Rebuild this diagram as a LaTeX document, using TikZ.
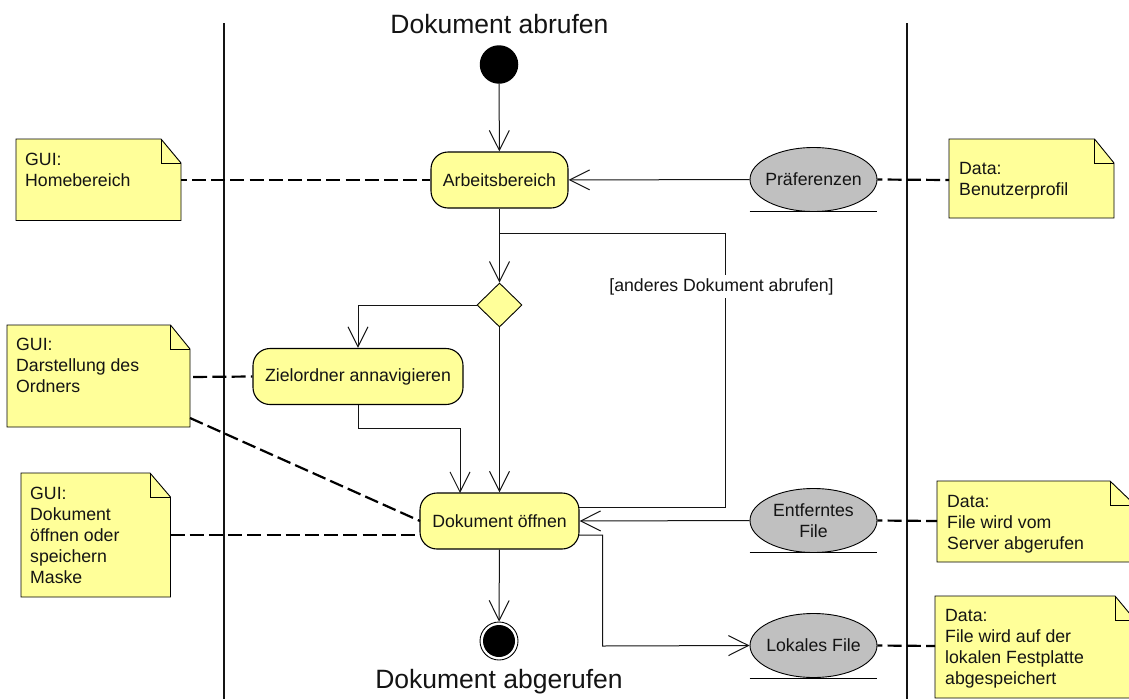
\documentclass[tikz,border=0pt]{standalone}
\usepackage{fontspec}
\setmainfont{Liberation Sans}
\usetikzlibrary{arrows.meta,shapes.geometric}
\definecolor{noteyellow}{RGB}{255,255,153}
\definecolor{objgray}{RGB}{192,192,192}
\definecolor{ink}{RGB}{20,20,20}
\tikzset{
  x=1pt,y=-1pt,
  every node/.style={font=\fontsize{17.7}{21}\selectfont,text=ink},
  lane/.style={draw=ink,line width=1.3pt},
  flow/.style={draw=ink,line width=1pt},
  arr/.style={flow,-{Straight Barb[length=20pt,width=20pt,line width=1pt]}},
  dep/.style={draw=black,line width=2.2pt,dash pattern=on 14pt off 5.2pt},
  activity/.style={draw=black,line width=1.1pt,fill=noteyellow,rounded corners=17pt,minimum height=56pt,inner sep=0pt,align=center},
  objnode/.style={draw=black,line width=0.9pt,fill=objgray,ellipse,minimum width=127pt,minimum height=64pt,inner xsep=-12pt,inner ysep=0pt,align=center},
  decisionnode/.style={draw=black,line width=0.9pt,fill=noteyellow,diamond,minimum width=45pt,minimum height=44pt,inner sep=0pt},
  bigtext/.style={font=\fontsize{26.5}{30}\selectfont},
  notefill/.style={draw=black,line width=0.9pt,fill=noteyellow},
  notetext/.style={anchor=north west,align=left,inner sep=0pt},
  underl/.style={draw=black,line width=1pt}
}
\newcommand{\notebox}[7]{% name, left, top, right, bottom, foldx, foldy
  \path[notefill] (#2,#3) -- (#6,#3) -- (#4,#7) -- (#4,#5) -- (#2,#5) -- cycle;
  \draw[draw=black,line width=0.9pt] (#6,#3) -- (#6,#7) -- (#4,#7);
  \coordinate (#1) at (#2,#3);
}
\begin{document}
\begin{tikzpicture}
\useasboundingbox (0,0) rectangle (1129,699);
\fill[white] (0,0) rectangle (1129,699);

% lanes
\coordinate (lane1a) at (224,23); \coordinate (lane1b) at (224,699);
\coordinate (lane2a) at (907,23); \coordinate (lane2b) at (907,699);
\draw[lane] (lane1a) -- (lane1b);
\draw[lane] (lane2a) -- (lane2b);

% notes
\notebox{n1}{16}{139}{181}{220.5}{161}{163}
\notebox{n2}{7}{325}{190}{427}{170.5}{349}
\notebox{n3}{21}{473}{170.5}{597}{150}{497}
\notebox{n4}{949}{139}{1114}{218}{1094.5}{163}
\notebox{n5}{937}{481}{1135}{562}{1110}{505}
\notebox{n6}{935}{596}{1135}{698}{1115}{620}
\node[notetext] (t1) at (25,153) {GUI:\\Homebereich};
\node[notetext] (t2) at (16,338) {GUI:\\Darstellung des\\Ordners};
\node[notetext] (t3) at (30,486.5) {GUI:\\Dokument\\öffnen oder\\speichern\\Maske};
\node[notetext] (t4) at (959,162.5) {Data:\\Benutzerprofil};
\node[notetext] (t5) at (947,495) {Data:\\File wird vom\\Server abgerufen};
\node[notetext] (t6) at (945,609) {Data:\\File wird auf der\\lokalen Festplatte\\abgespeichert};

% main nodes
\node[circle,fill=black,minimum size=38.5pt,inner sep=0pt] (start) at (499,64.5) {};
\node[activity,minimum width=137pt] (arb) at (499.5,180) {Arbeitsbereich};
\node[decisionnode] (dec) at (499.5,305) {};
\node[activity,minimum width=210pt] (ziel) at (358,376.5) {Zielordner annavigieren};
\node[activity,minimum width=159pt] (dok) at (499.5,521) {Dokument öffnen};
\node[circle,draw=black,line width=0.9pt,fill=white,minimum size=38pt,inner sep=0pt] (endo) at (499,641) {};
\node[circle,fill=black,minimum size=32pt,inner sep=0pt] (endi) at (499,641) {};
\node[objnode] (praef) at (813.5,179.5) {Präferenzen};
\node[objnode] (entf) at (813.5,520.5) {Entferntes\\File};
\node[objnode] (lokal) at (813.5,645.5) {Lokales File};
\draw[underl] (praef.west |- 0,211.5) -- (praef.east |- 0,211.5);
\draw[underl] (entf.west |- 0,552.5) -- (entf.east |- 0,552.5);
\draw[underl] (lokal.west |- 0,678) -- (lokal.east |- 0,678);

\node[bigtext] (title1) at (499.5,24) {Dokument abrufen};
\node[bigtext] (title2) at (499,682) {Dokument abgerufen};

% junction coordinates
\coordinate (j1) at (499.5,233);
\coordinate (j2) at (725,233);
\coordinate (j3) at (725,507);
\coordinate (j4) at (579,507);
\coordinate (k1) at (358,305);
\coordinate (m1) at (358,428);
\coordinate (m2) at (460,428);
\coordinate (m3) at (460,493);
\coordinate (p1) at (579,535);
\coordinate (p2) at (602.5,535);
\coordinate (p3) at (602.5,646);

% flows
\draw[arr] (start) -- (arb);
\draw[arr] (arb) -- (dec);
\draw[flow] (j1) -- (j2) -- (j3) -- (j4);
\draw[arr] (dec.west) -- (k1) -- (ziel.north -| k1);
\draw[arr] (dec) -- (dok);
\draw[arr] (ziel.south -| m1) -- (m1) -- (m2) -- (m3);
\draw[arr] (praef) -- (arb);
\draw[arr] (entf.west) -- (dok.east);
\draw[arr] (p1) -- (p2) -- (p3) -- (lokal.west);
\draw[arr] (dok) -- (endo);

\node[fill=white,inner xsep=1pt,inner ysep=3pt] (guard) at (721.5,286.5) {[anderes Dokument abrufen]};

% dependencies
\draw[dep,dash phase=8.2pt] (181,180) -- (arb.west);
\draw[dep,dash phase=16pt] (190,377) -- (ziel.west);
\draw[dep] (190,418) -- (420,521);
\draw[dep] (170.5,535) -- (420,535);
\draw[dep,dash phase=9pt] (praef.east) -- (949,180);
\draw[dep,dash phase=9pt] (entf.east) -- (937,521);
\draw[dep,dash phase=9pt] (lokal.east) -- (935,646);
\end{tikzpicture}
\end{document}
